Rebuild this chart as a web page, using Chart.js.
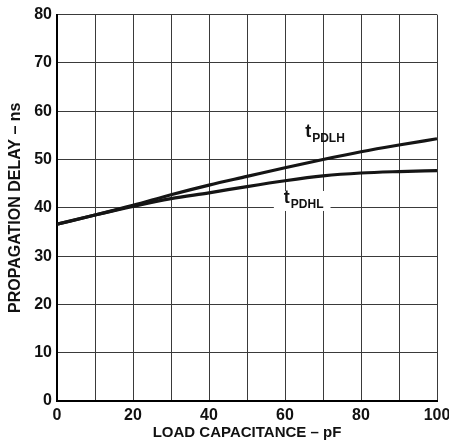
<!DOCTYPE html>
<html>
<head>
<meta charset="utf-8">
<script src="https://cdn.jsdelivr.net/npm/chart.js@4/dist/chart.umd.min.js"></script>
<style>
  html, body { margin: 0; padding: 0; background: #fff; }
  #wrap { width: 449px; height: 442px; position: relative; }
</style>
</head>
<body>
<div id="wrap"><canvas id="c" width="449" height="442"></canvas></div>
<script>
// Data
const loadCapacitance = [0, 10, 20, 30, 40, 50, 60, 70, 80, 90, 100];   // pF
const tPDLH = [36.6, 38.5, 40.5, 42.7, 44.7, 46.5, 48.3, 50.0, 51.6, 53.0, 54.3]; // ns
const tPDHL = [36.6, 38.5, 40.3, 41.9, 43.1, 44.4, 45.6, 46.6, 47.2, 47.5, 47.7]; // ns
const xTickLabels = ['0', '20', '40', '60', '80', '100'];
const yTickLabels = ['0', '10', '20', '30', '40', '50', '60', '70', '80'];
const xTitle = 'LOAD CAPACITANCE – pF';
const yTitle = 'PROPAGATION DELAY – ns';
const curveLabels = [
  { main: 't', sub: 'PDLH', x: 65.3, y: 54.6, box: false },
  { main: 't', sub: 'PDHL', x: 59.7, y: 41.0, box: true }
];

const FONT = '"Liberation Sans", Arial, Helvetica, sans-serif';

const toXY = (ys) => loadCapacitance.map((x, i) => ({ x: x, y: ys[i] }));

const curveLabelPlugin = {
  id: 'curveLabels',
  afterDatasetsDraw(chart) {
    const ctx = chart.ctx;
    const xs = chart.scales.x, ys = chart.scales.y;
    ctx.save();
    ctx.textBaseline = 'alphabetic';
    ctx.textAlign = 'left';
    curveLabels.forEach(l => {
      const px = xs.getPixelForValue(l.x);
      const py = ys.getPixelForValue(l.y);
      ctx.font = 'bold 18px ' + FONT;
      const wMain = ctx.measureText(l.main).width;
      ctx.font = 'bold 12px ' + FONT;
      const wSub = ctx.measureText(l.sub).width;
      if (l.box) {
        ctx.fillStyle = '#fff';
        ctx.fillRect(px - 10, py - 12, wMain + wSub + 18, 20);
      }
      ctx.fillStyle = '#111';
      ctx.font = 'bold 18px ' + FONT;
      ctx.fillText(l.main, px, py);
      ctx.font = 'bold 12px ' + FONT;
      ctx.fillText(l.sub, px + wMain + 1, py + 5);
    });
    ctx.restore();
  }
};

new Chart(document.getElementById('c'), {
  type: 'line',
  data: {
    datasets: [
      { label: 'tPDLH', data: toXY(tPDLH), borderColor: '#151515', borderWidth: 3.2,
        pointRadius: 0, cubicInterpolationMode: 'monotone', fill: false },
      { label: 'tPDHL', data: toXY(tPDHL), borderColor: '#151515', borderWidth: 3.2,
        pointRadius: 0, cubicInterpolationMode: 'monotone', fill: false }
    ]
  },
  options: {
    responsive: false,
    animation: false,
    devicePixelRatio: 1,
    layout: { padding: { top: 14, right: 0, left: 0, bottom: 0 } },
    plugins: { legend: { display: false }, tooltip: { enabled: false } },
    scales: {
      x: {
        type: 'linear', min: 0, max: 100,
        afterFit: (s) => { s.height = 41; s.paddingRight = 12; s.paddingLeft = 0; },
        grid: { color: '#3a3a3a', lineWidth: 1, drawTicks: false },
        border: { color: '#000', width: 2 },
        ticks: {
          stepSize: 10, autoSkip: false, maxRotation: 0, padding: 5,
          color: '#111', font: { family: FONT, size: 16, weight: 'bold' },
          callback: (v) => { const s = String(v); return xTickLabels.includes(s) ? s : ''; }
        },
        title: { display: true, text: xTitle, color: '#111', padding: { top: 1, bottom: 0 },
          font: { family: FONT, size: 15, weight: 'bold' } }
      },
      y: {
        type: 'linear', min: 0, max: 80,
        afterFit: (s) => { s.width = 57; },
        grid: { color: '#3a3a3a', lineWidth: 1, drawTicks: false },
        border: { color: '#000', width: 2 },
        ticks: {
          stepSize: 10, autoSkip: false, padding: 5,
          color: '#111', font: { family: FONT, size: 16, weight: 'bold' },
          callback: (v) => { const s = String(v); return yTickLabels.includes(s) ? s : ''; }
        },
        title: { display: true, text: yTitle, color: '#111', padding: { top: 6, bottom: 0 },
          font: { family: FONT, size: 16, weight: 'bold' } }
      }
    }
  },
  plugins: [curveLabelPlugin]
});
</script>
</body>
</html>
